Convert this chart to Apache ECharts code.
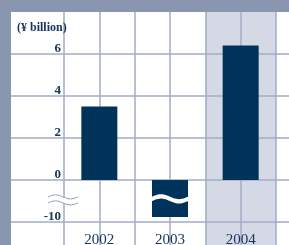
<!DOCTYPE html>
<html>
<head>
<meta charset="utf-8">
<script src="https://cdn.jsdelivr.net/npm/echarts@6/dist/echarts.min.js"></script>
<style>
  html, body { margin: 0; padding: 0; background: #8a95b0; }
  #chart { width: 289px; height: 245px; }
</style>
</head>
<body>
<div id="chart"></div>
<script>
// data
const years = ['2002', '2003', '2004'];
const netIncome = [3.5, -8.8, 6.4];          // ¥ billion
const tickValues = [6, 4, 2, 0, -2];          // positions on the drawn (broken) axis
const tickText = ['6', '4', '2', '0', '-10'];
const breakScale = 5;                          // below zero the axis is squeezed 1:5
const breakAt = -0.9;                          // where the break mark sits

const navy = '#003359';
const gridCol = '#a3abc6';
const textCol = '#183760';
const serif = '"Liberation Serif", "DejaVu Serif", serif';

const shown = netIncome.map(v => v < 0 ? v / breakScale : v);

function sinePts(x0, x1, yc, amp, n) {
  const pts = [];
  for (let i = 0; i <= n; i++) {
    const t = i / n;
    pts.push([x0 + (x1 - x0) * t, yc - amp * Math.sin(t * Math.PI * 2)]);
  }
  return pts;
}

function renderBreak(params, api) {
  const p = api.coord([api.value(0), api.value(1)]);
  const barW = 36, th = 2.2, amp = 2.5;
  // white wave cut through the negative bar
  const top = sinePts(p[0] - barW / 2, p[0] + barW / 2, p[1] - th, amp, 24);
  const bot = sinePts(p[0] - barW / 2, p[0] + barW / 2, p[1] + th, amp, 24).reverse();
  // break mark on the y axis
  const ax = params.coordSys.x;
  const yc = p[1] + 1;
  const up = sinePts(ax - 16, ax + 14, yc - 3, 2, 24);
  const lo = sinePts(ax - 16, ax + 14, yc + 3, 2, 24);
  return {
    type: 'group',
    children: [
      { type: 'polygon', shape: { points: top.concat(bot) }, style: { fill: '#fff' } },
      { type: 'polygon', shape: { points: up.concat(lo.slice().reverse()) }, style: { fill: '#fff' } },
      { type: 'polyline', shape: { points: up }, style: { stroke: '#8d9bb7', lineWidth: 1, fill: null } },
      { type: 'polyline', shape: { points: lo }, style: { stroke: '#8d9bb7', lineWidth: 1, fill: null } }
    ]
  };
}

const chart = echarts.init(document.getElementById('chart'));
chart.setOption({
  backgroundColor: '#8a95b0',
  animation: false,
  title: {
    text: '(¥ billion)', left: 12, top: 17,
    textStyle: { fontFamily: serif, fontSize: 12, fontWeight: 'bold', color: textCol }
  },
  grid: [
    { left: 11, right: 0, top: 12, height: 252, outerBoundsMode: 'none', containLabel: false,
      show: true, backgroundColor: '#fff', borderWidth: 0, z: -1 },
    { left: 64, right: 13, top: 12, height: 252, outerBoundsMode: 'none', containLabel: false }
  ],
  xAxis: [
    { type: 'value', gridIndex: 0, show: false, min: 0, max: 1 },
    {
      type: 'value', gridIndex: 1, position: 'top', min: 0, max: 6, interval: 1, z: 1,
      axisLine: { show: false }, axisTick: { show: false }, axisLabel: { show: false },
      splitLine: { show: true, lineStyle: { color: gridCol, width: 1.5 } }
    },
    {
      type: 'category', gridIndex: 1, position: 'bottom', data: years, z: 3,
      axisLine: { show: false }, axisTick: { show: false }, splitLine: { show: false },
      axisLabel: { inside: true, margin: 16, fontFamily: serif, fontSize: 15, color: textCol }
    }
  ],
  yAxis: [
    {
      type: 'value', gridIndex: 0, min: -4, max: 8, interval: 2, z: 1,
      axisLine: { show: false }, axisTick: { show: false }, axisLabel: { show: false },
      splitLine: { show: true, showMaxLine: false, lineStyle: { color: gridCol, width: 1.5 } }
    },
    {
      type: 'value', gridIndex: 1, min: -4, max: 8, interval: 2, z: 3,
      axisLine: { show: false }, axisTick: { show: false }, splitLine: { show: false },
      axisLabel: {
        margin: 3, fontFamily: serif, fontSize: 13, fontWeight: 'bold', color: textCol,
        verticalAlign: 'bottom', lineHeight: 10,
        formatter: v => { const i = tickValues.indexOf(v); return i < 0 ? '' : tickText[i]; }
      }
    }
  ],
  series: [
    {
      type: 'line', xAxisIndex: 1, yAxisIndex: 1, data: [], silent: true, z: 0,
      markArea: {
        silent: true, z: 0,
        itemStyle: { color: '#d5d9e5' },
        data: [[{ xAxis: 4 }, { xAxis: 6 }]]
      }
    },
    {
      type: 'bar', xAxisIndex: 2, yAxisIndex: 1, data: shown, barWidth: 36, z: 2,
      itemStyle: { color: navy }
    },
    {
      type: 'custom', xAxisIndex: 2, yAxisIndex: 1, z: 4, silent: true,
      renderItem: renderBreak,
      data: [[1, breakAt]]
    }
  ]
});
</script>
</body>
</html>
